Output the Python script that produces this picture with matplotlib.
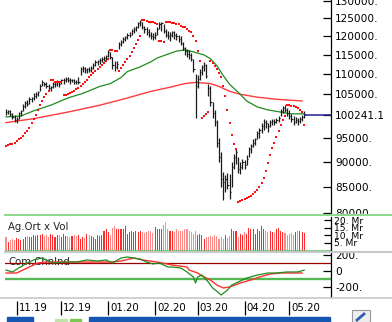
import numpy as np
import matplotlib
matplotlib.use("Agg")
import matplotlib.pyplot as plt
from matplotlib.patches import Rectangle
from matplotlib.lines import Line2D
from matplotlib.ticker import NullLocator

W, H = 392, 322

# daily bars 24.10.2019 - 13.05.2020
high = [101500, 101300, 101300, 100600, 100200, 99700, 100800, 101300, 102700, 103400,
        103600, 104300, 104300, 105200, 105500, 105900, 107400, 108400, 108100, 107900,
        107400, 107100, 107900, 108100, 108400, 108100, 108800, 109100, 109300, 109300,
        109100, 108800, 108800, 108600, 109300, 111800, 112100, 111800, 111600, 111800,
        112100, 112800, 113600, 113600, 114100, 114400, 114600, 114900, 116200, 115700,
        114400, 113300, 113300, 118300, 118800, 119600, 119900, 120700, 121000, 121800,
        122400, 122900, 124000, 124600, 124000, 122900, 122400, 121800, 121000, 120700,
        121000, 122400, 123800, 124000, 123200, 121800, 121300, 121000, 121500, 121300,
        120700, 120400, 119900, 118300, 117000, 116400, 116200, 115400, 113900, 110100,
        109800, 111300, 112300, 113100, 112600, 107600, 106900, 103100, 101300, 99000,
        95100, 91900, 87900, 87300, 87700, 87500, 89900, 91500, 92600, 90900,
        89900, 90500, 90300, 91300, 93000, 93600, 94700, 95100, 96600, 97300,
        98200, 99300, 99000, 98400, 99000, 99300, 99300, 99500, 99900, 101500,
        102200, 102400, 101700, 101300, 100400, 99900, 99700, 99500, 99700, 100200,
        101100]
low = [100200, 100400, 99900, 99300, 98600, 98400, 99300, 99900, 101100, 101700,
       102200, 102700, 103100, 103600, 104100, 104500, 105700, 106900, 106900, 106400,
       105900, 105700, 106400, 106700, 106900, 106700, 107400, 107600, 107900, 108100,
       107600, 107900, 107600, 107400, 107600, 109800, 110600, 110300, 110300, 110600,
       110600, 111300, 112100, 112300, 112600, 113100, 113300, 113600, 114400, 113900,
       111300, 110800, 111300, 116400, 117200, 118000, 118600, 119100, 119600, 120200,
       120700, 121300, 122100, 122900, 121800, 120700, 120200, 119600, 119100, 118800,
       119100, 120400, 121800, 121300, 120700, 119600, 119100, 118600, 119600, 119100,
       118800, 118300, 117500, 116200, 114900, 114400, 113900, 113300, 110600, 99500,
       106400, 108400, 109800, 110800, 109100, 104500, 102200, 99500, 97700, 93000,
       89900, 84900, 82500, 84000, 84600, 82700, 84900, 88500, 89500, 87700,
       87500, 88500, 88500, 89300, 90900, 91700, 93000, 93400, 94700, 95100,
       96000, 96800, 97300, 96200, 97500, 97900, 97900, 98200, 98600, 99900,
       100600, 100800, 99900, 99300, 98600, 97900, 98200, 97900, 98200, 98800,
       99500]
close = [100800, 101100, 100400, 99700, 99000, 99300, 100600, 101100, 102200, 102900,
         102700, 103800, 104100, 104500, 105000, 105500, 106900, 107900, 107400, 107100,
         106400, 106700, 107400, 107600, 107900, 107400, 108400, 108600, 108800, 108600,
         108400, 108600, 108100, 107900, 108100, 111300, 111600, 111100, 111300, 111100,
         111600, 112300, 113100, 113300, 113600, 113900, 114100, 114600, 115700, 114400,
         112300, 111800, 112600, 117800, 118300, 119100, 119600, 120200, 120400, 121300,
         121800, 122400, 123500, 124000, 122400, 121800, 121000, 120400, 119900, 119600,
         120200, 121800, 123200, 123500, 121500, 120400, 119900, 120400, 121000, 120400,
         119900, 119100, 118000, 116700, 115900, 115100, 114900, 113900, 111300, 106900,
         108800, 110600, 111800, 112300, 109600, 106400, 103100, 100600, 98600, 94000,
         90900, 86500, 85900, 86500, 85300, 84000, 88900, 90900, 91900, 88500,
         88900, 89900, 89300, 90500, 92600, 93200, 94000, 94700, 96000, 96800,
         97700, 98600, 98200, 97700, 98600, 98800, 98600, 99000, 99500, 101100,
         101700, 101300, 100600, 99900, 99300, 98600, 99000, 98800, 99300, 99700,
         100241.1]

# parabolic SAR, one dot per bar
sar = [93200, 93400, 93600, 93800, 94000, 94300, 94700, 95100, 95500, 96000,
       96600, 97300, 98200, 99300, 100200, 101300, 102400, 103400, 104300, 105000,
       105700, 108400, 108400, 108100, 108100, 107900, 107900, 104800, 104900, 105000,
       105200, 105500, 105700, 106200, 106400, 106900, 107400, 107900, 108600, 109300,
       109800, 110300, 110800, 111300, 111800, 112300, 112800, 113300, 113900, 116200,
       116200, 115900, 115900, 110800, 111600, 112300, 113100, 113900, 114600, 115700,
       116700, 117800, 118800, 119900, 124600, 124500, 124300, 124000, 123900, 123800,
       123500, 123200, 118600, 118600, 118300, 124000, 123900, 123800, 123600, 123500,
       123400, 123200, 122900, 122600, 122400, 121800, 121500, 121000, 119900, 118600,
       115900, 113300, 99500, 99900, 100400, 100800, 113300, 112800, 112100, 111300,
       110300, 109300, 106900, 104500, 101300, 98400, 95700, 93800, 92600, 82100,
       82300, 82500, 82700, 82800, 83000, 83200, 83600, 84000, 84400, 84900,
       85700, 86700, 88100, 89700, 91300, 92800, 94000, 95300, 96600, 97900,
       99000, 99900, 102400, 102400, 102300, 102200, 102000, 101700, 101300, 100800,
       97900]

# moving averages (bar index, value)
ma_fast_idx = [0, 7, 13, 21, 29, 36, 44, 49, 54, 57, 63, 68, 71, 76, 80, 84, 88, 93,
               96, 99, 102, 105, 109, 113, 118, 123, 129, 133, 140]
ma_fast = [99700, 99900, 101100, 102400, 104100, 105200, 106900, 107600, 109100, 110600,
           111800, 113100, 114100, 115100, 115900, 116200, 115700, 114900, 113900, 112100,
           109600, 107400, 105500, 103400, 102000, 101300, 100800, 100400, 100400]
ma_slow_idx = [0, 13, 29, 44, 57, 68, 77, 84, 89, 96, 100, 105, 110, 118, 127, 139]
ma_slow = [98400, 99300, 100800, 102400, 104100, 105700, 106700, 107600, 107900, 107600,
           106900, 105700, 105000, 104300, 103800, 103400]

# volume, milyar TL
volume = [8.9, 5.6, 6.7, 7.8, 6.7, 8.2, 7.8, 6.7, 7.8, 8.9,
          9.6, 8.9, 8.9, 10.4, 9.6, 10.4, 10.0, 11.1, 9.6, 10.4,
          8.9, 11.1, 10.4, 8.9, 10.0, 10.0, 8.9, 11.1, 9.6, 9.6,
          8.9, 9.6, 10.4, 9.6, 10.0, 7.8, 8.9, 8.2, 11.1, 10.4,
          9.6, 8.9, 7.8, 10.0, 9.6, 10.4, 13.3, 14.0, 12.2, 10.0,
          14.9, 16.2, 14.4, 14.4, 14.4, 14.0, 16.2, 11.1, 12.2, 12.7,
          12.2, 12.7, 12.2, 12.7, 12.2, 11.8, 12.2, 13.3, 13.3, 11.8,
          15.6, 14.4, 14.0, 14.4, 16.7, 19.3, 14.0, 13.3, 12.7, 12.2,
          14.0, 13.3, 13.3, 12.7, 14.0, 14.4, 13.3, 12.2, 11.1, 13.3,
          10.0, 11.1, 10.0, 7.8, 8.9, 8.9, 9.6, 8.9, 10.0, 9.6,
          7.8, 8.9, 7.8, 10.0, 8.2, 9.6, 14.0, 13.3, 12.7, 8.9,
          11.1, 10.0, 12.2, 11.1, 14.9, 14.0, 14.4, 11.1, 14.4, 13.3,
          16.2, 14.4, 12.7, 12.2, 13.3, 12.2, 11.8, 14.0, 14.9, 13.3,
          12.2, 11.8, 10.0, 11.1, 11.8, 10.4, 12.2, 12.7, 12.7, 12.2,
          11.8]

# commodity channel index and its signal line (bar index, value)
cci_idx = [0, 3, 6, 10, 13, 17, 19, 22, 27, 33, 38, 43, 47, 50, 54, 57, 60, 63, 66, 69,
           72, 76, 78, 82, 85, 88, 89, 90, 92, 95, 97, 100, 101, 104, 106, 109, 113, 118,
           123, 127, 132, 137, 140]
cci = [12, -12, 38, 100, 138, 162, 138, 100, 112, 112, 138, 125, 138, 100, 162, 175, 162,
       150, 112, 88, 100, 50, 50, 38, -12, -75, -150, -75, -50, -138, -212, -275, -300,
       -238, -175, -138, -88, -50, -25, -25, -12, -12, 12]
cci_sig_idx = [0, 5, 10, 15, 19, 25, 33, 41, 49, 54, 60, 64, 71, 78, 85, 86, 90, 92, 96,
               99, 102, 105, 110, 115, 119, 124, 129, 133, 139]
cci_sig = [-25, -25, 38, 100, 112, 112, 112, 112, 112, 125, 162, 138, 112, 75, 50, 12,
           -25, -62, -112, -175, -212, -200, -150, -112, -75, -38, -25, -25, -25]

month_idx = [5, 26, 48, 70, 90, 112, 133]
month_labels = ["11.19", "12.19", "01.20", "02.20", "03.20", "04.20", "05.20"]

price_ticks = [80000, 85000, 90000, 95000, 100241.1, 105000, 110000, 115000, 120000,
               125000, 130000]
price_labels = ["80000.", "85000.", "90000.", "95000.", "100241.1", "105000.", "110000.",
                "115000.", "120000.", "125000.", "130000."]


def rect(x0, y0, x1, y1):
    return [x0 / W, 1 - y1 / H, (x1 - x0) / W, (y1 - y0) / H]


def fline(x0, x1, y, **kw):
    fig.add_artist(Line2D([x0 / W, x1 / W], [1 - y / H, 1 - y / H], **kw))


def right_axis(ax, fs=7.6):
    for s in ("left", "top", "bottom"):
        ax.spines[s].set_visible(False)
    ax.spines["right"].set_linewidth(0.9)
    ax.yaxis.tick_right()
    ax.tick_params(axis="y", direction="in", length=6, width=0.9, pad=3,
                   labelsize=fs, colors="black")
    ax.set_xticks([])
    ax.patch.set_alpha(0)


plt.rcParams["font.family"] = "DejaVu Sans"
fig = plt.figure(figsize=(W / 100, H / 100), dpi=100)
x = np.arange(len(close))
xlim = (-0.47, 152.6)

# price panel
ax = fig.add_axes(rect(5, 0, 331, 213))
ax.set_yscale("log")
ax.set_ylim(80400, 130300)
ax.set_xlim(*xlim)
right_axis(ax)
ax.set_yticks(price_ticks, labels=price_labels)
ax.yaxis.set_minor_locator(NullLocator())
ax.plot(ma_slow_idx, ma_slow, color="#ff3b3b", lw=1.0)
ax.plot(ma_fast_idx, ma_fast, color="#1e8c1e", lw=0.9)
ax.vlines(x, low, high, color="#1a1a1a", lw=0.9)
ax.hlines(close, x, x + 0.55, color="#1a1a1a", lw=0.8)
ax.scatter(x, sar, s=4.5, marker="s", color="#ff1010", linewidths=0, zorder=3)
ax.hlines(close[-1], x[-1], xlim[1], color="#202090", lw=1.1)

# volume panel
axv = fig.add_axes(rect(5, 217, 331, 250.5))
axv.set_xlim(*xlim)
axv.set_ylim(0, 22.3)
right_axis(axv, fs=6.6)
axv.tick_params(axis="y", length=5, pad=2)
axv.add_patch(Rectangle((1.0, -0.1), 0.3, 1.2, transform=axv.transAxes,
                        color="white", clip_on=False, zorder=-5))
vol_colors = ["#ff2a2a" if i > 0 and close[i] >= close[i - 1] else "#ff8a8a"
              for i in range(len(close))]
axv.bar(x, volume, width=0.5, color=vol_colors, linewidth=0)
axv.axhline(0, color="#5cbf5c", lw=1.8)
axv.set_yticks([5, 10, 15, 20], labels=["5. Mr", "10. Mr", "15. Mr", "20. Mr"])
axv.text(0.01, 0.7, "Ag.Ort x Vol", transform=axv.transAxes, fontsize=7.3,
         color="#222222", va="center")

# CCI panel
axc = fig.add_axes(rect(5, 253, 331, 297))
axc.set_xlim(*xlim)
axc.set_ylim(-325, 225)
right_axis(axc)
axc.set_yticks([-200, 0, 200], labels=["-200.", "0", "200."])
axc.text(0.01, 0.8, "Com.ChnInd", transform=axc.transAxes, fontsize=7.3,
         color="#222222", va="center", zorder=1)
axc.axhline(100, color="#990000", lw=0.9, zorder=2)
axc.axhline(-100, color="#55b855", lw=1.7, zorder=2)
axc.plot(cci_sig_idx, cci_sig, color="#ff3030", lw=1.0, zorder=3)
axc.plot(cci_idx, cci, color="#1e8c1e", lw=0.9, zorder=3)

# month axis
axt = fig.add_axes(rect(5, 297, 331, 316))
axt.set_xlim(*xlim)
axt.set_ylim(0, 1)
axt.axis("off")
axt.vlines(month_idx, 0.05, 0.8, color="black", lw=0.9)
for m, lab in zip(month_idx, month_labels):
    axt.text(m + 0.9, 0.4, lab, fontsize=7.3, va="center", ha="left")

# separators
fline(5, 392, 215, color="#8fd88f", lw=1.5)
fline(5, 392, 252, color="#c8c8c8", lw=1.5)
fline(0, 392, 297.5, color="#c8c8c8", lw=1.2)

# scroll bar and button
for x0, x1, c in [(7, 33, "#1456b0"), (89, 330, "#1456b0"),
                  (55, 67, "#bfe3a8"), (70, 81, "#7cc850")]:
    y0 = 317 if c == "#1456b0" else 318.5
    fig.add_artist(Rectangle((x0 / W, 0), (x1 - x0) / W, (H - y0) / H,
                             transform=fig.transFigure, color=c))
fig.add_artist(Rectangle((352 / W, 0), 18 / W, 12 / H, transform=fig.transFigure,
                         facecolor="#eeeeee", edgecolor="#999999", lw=0.8))
fig.add_artist(Line2D([357 / W, 364 / W], [2 / H, 8 / H], color="#2a5fb0", lw=2))

fig.savefig("out.png", dpi=100)
